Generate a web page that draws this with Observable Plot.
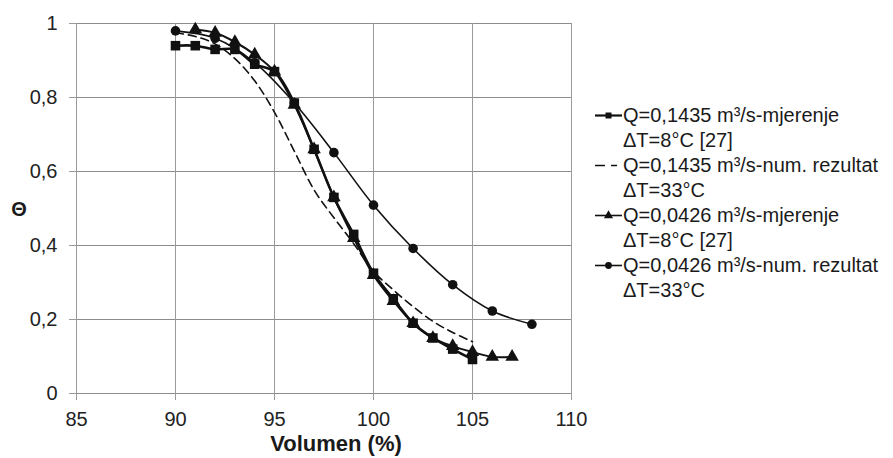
<!DOCTYPE html>
<html><head><meta charset="utf-8">
<script src="https://cdn.jsdelivr.net/npm/d3@7"></script>
<script src="https://cdn.jsdelivr.net/npm/@observablehq/plot@0.6"></script>
<style>
body{margin:0;background:#fff;}
#wrap{position:relative;width:893px;height:458px;font-family:"Liberation Sans",Arial,sans-serif;color:#1a1a1a;}
#wrap svg{position:absolute;left:0;top:0;}
.lab{position:absolute;white-space:nowrap;}
.leg{position:absolute;left:595px;top:103px;font-size:20px;line-height:25px;}
.leg .row{position:relative;padding-left:28px;white-space:nowrap;}
.leg .row svg{position:absolute;left:0;top:0;}
</style></head><body><div id="wrap"></div>
<script>
// Series: Q=0,1435 m3/s measured (squares)
const volSq   = [90,91,92,93,94,95,96,97,98,99,100,101,102,103,104,105];
const thetaSq = [0.94,0.94,0.93,0.93,0.89,0.87,0.785,0.66,0.53,0.43,0.325,0.256,0.19,0.15,0.12,0.092];
// Q=0,1435 numerical (dashed)
const volNum1   = [90,91,92,93,94,95,96,97,98,99,100,101,102,103,104,105];
const thetaNum1 = [0.975,0.965,0.945,0.905,0.845,0.76,0.655,0.55,0.475,0.405,0.33,0.28,0.235,0.195,0.165,0.14];
// Q=0,0426 measured (triangles)
const volTri   = [91,92,93,94,95,96,97,98,99,100,101,102,103,104,105,106,107];
const thetaTri = [0.984,0.975,0.95,0.916,0.87,0.78,0.66,0.53,0.42,0.32,0.25,0.19,0.15,0.128,0.112,0.099,0.099];
// Q=0,0426 numerical (circles)
const volCir   = [90,92,94,96,98,100,102,104,106,108];
const thetaCir = [0.98,0.96,0.894,0.785,0.651,0.509,0.392,0.294,0.223,0.187];

const xTicks = [85,90,95,100,105,110];
const yTicks = [0,0.2,0.4,0.6,0.8,1];
const yTickLabels = ["0","0,2","0,4","0,6","0,8","1"];
const legendLabels = [
  ["Q=0,1435 m³/s-mjerenje","ΔT=8°C [27]"],
  ["Q=0,1435 m³/s-num. rezultat","ΔT=33°C"],
  ["Q=0,0426 m³/s-mjerenje","ΔT=8°C [27]"],
  ["Q=0,0426 m³/s-num. rezultat","ΔT=33°C"]
];
const xLabel = "Volumen (%)";
const yLabel = "Θ";

const zip = (xs, ys) => xs.map((x, i) => ({x, y: ys[i]}));
const sq = zip(volSq, thetaSq), n1 = zip(volNum1, thetaNum1), tr = zip(volTri, thetaTri), ci = zip(volCir, thetaCir);

const ink = "#111";
const chart = Plot.plot({
  width: 893, height: 458,
  marginLeft: 76, marginRight: 322, marginTop: 23, marginBottom: 65,
  style: {fontFamily: '"Liberation Sans", Arial, sans-serif', fontSize: "20px", color: "#222", background: "transparent"},
  x: {domain: [85, 110]},
  y: {domain: [0, 1]},
  marks: [
    Plot.gridY(yTicks, {stroke: "#8c8c8c", strokeOpacity: 1}),
    Plot.gridX(xTicks, {stroke: "#9a9a9a", strokeOpacity: 1}),
    Plot.axisX(xTicks, {tickSize: 7, tickPadding: 11, stroke: "#9a9a9a", label: null, fontSize: 20}),
    Plot.axisY(yTicks, {tickSize: 7, tickPadding: 12, stroke: "#9a9a9a", label: null, fontSize: 20,
      tickFormat: d => yTickLabels[yTicks.indexOf(d)]}),
    Plot.line(n1, {x: "x", y: "y", stroke: ink, strokeWidth: 1.6, strokeDasharray: "8,5", curve: "catmull-rom"}),
    Plot.line(sq, {x: "x", y: "y", stroke: ink, strokeWidth: 2.6, curve: "catmull-rom"}),
    Plot.line(tr, {x: "x", y: "y", stroke: ink, strokeWidth: 2, curve: "catmull-rom"}),
    Plot.line(ci, {x: "x", y: "y", stroke: ink, strokeWidth: 1.6, curve: "catmull-rom"}),
    Plot.dot(sq, {x: "x", y: "y", symbol: "square", r: 5.4, fill: ink, stroke: "none"}),
    Plot.dot(tr, {x: "x", y: "y", symbol: "triangle", r: 5, fill: ink, stroke: "none"}),
    Plot.dot(ci, {x: "x", y: "y", symbol: "circle", r: 4.8, fill: ink, stroke: "none"})
  ]
});
const wrap = document.getElementById("wrap");
wrap.appendChild(chart);

const xl = document.createElement("div");
xl.className = "lab";
xl.textContent = xLabel;
xl.style.cssText = "left:336px;top:431px;transform:translateX(-50%);font-size:22px;font-weight:bold;";
wrap.appendChild(xl);
const yl = document.createElement("div");
yl.className = "lab";
yl.textContent = yLabel;
yl.style.cssText = "left:19px;top:198px;transform:translateX(-50%);font-size:20px;font-weight:bold;";
wrap.appendChild(yl);

// legend
const symbols = ["square", "dash", "triangle", "circle"];
const leg = document.createElement("div");
leg.className = "leg";
legendLabels.forEach((lines, i) => {
  lines.forEach((t, j) => {
    const row = document.createElement("div");
    row.className = "row";
    row.textContent = t;
    if (j === 0) {
      const ns = "http://www.w3.org/2000/svg";
      const s = document.createElementNS(ns, "svg");
      s.setAttribute("width", 28); s.setAttribute("height", 25);
      const cy = 12.5;
      const sym = symbols[i];
      if (sym === "dash") {
        const p = document.createElementNS(ns, "path");
        p.setAttribute("d", `M0,${cy}H10M16,${cy}H22`);
        p.setAttribute("stroke", ink); p.setAttribute("stroke-width", 1.6);
        s.appendChild(p);
      } else {
        const p = document.createElementNS(ns, "path");
        p.setAttribute("d", `M0,${cy}H27`);
        p.setAttribute("stroke", ink); p.setAttribute("stroke-width", sym === "square" ? 2.2 : 1.6);
        s.appendChild(p);
        const m = document.createElementNS(ns, "path");
        const sy = sym === "square" ? d3.symbolSquare : sym === "triangle" ? d3.symbolTriangle : d3.symbolCircle;
        m.setAttribute("d", d3.symbol(sy, 36)());
        m.setAttribute("transform", `translate(13.5,${cy})`);
        m.setAttribute("fill", ink);
        s.appendChild(m);
      }
      row.appendChild(s);
    }
    leg.appendChild(row);
  });
});
wrap.appendChild(leg);
</script>
</body></html>
